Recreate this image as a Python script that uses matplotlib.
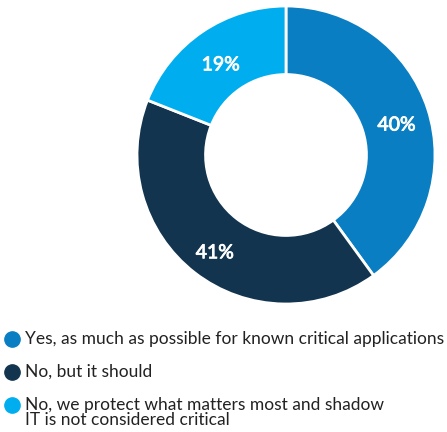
import numpy as np
import matplotlib.pyplot as plt
import matplotlib.patheffects as pe

labels = [
    "Yes, as much as possible for known critical applications",
    "No, but it should",
    "No, we protect what matters most and shadow\nIT is not considered critical",
]
values = [40, 41, 19]
colors = ["#0a7ec2", "#12344f", "#00aeef"]

W, H = 447, 432
fig = plt.figure(figsize=(W / 100, H / 100), dpi=100)
plt.rcParams["font.family"] = ["Lato", "DejaVu Sans"]

# donut
cx, cy, r = 286, 155, 149
ax = fig.add_axes([(cx - r) / W, (H - cy - r) / H, 2 * r / W, 2 * r / H])
ax.pie(
    values, colors=colors, startangle=90, counterclock=False, radius=1,
    wedgeprops=dict(width=0.46, edgecolor="white", linewidth=2),
)
ax.set_xlim(-1, 1)
ax.set_ylim(-1, 1)
ax.set_aspect("equal")
ax.axis("off")

start = 90
for v in values:
    mid = np.deg2rad(start - v * 3.6 / 2)
    ax.text(0.78 * np.cos(mid), 0.78 * np.sin(mid) - 0.04, f"{v}%", color="white",
            fontsize=14, ha="center", va="center",
            path_effects=[pe.withStroke(linewidth=0.6, foreground="white")])
    start -= v * 3.6

# legend drawn in pixel coordinates
lax = fig.add_axes([0, 0, 1, 1])
lax.set_xlim(0, W)
lax.set_ylim(H, 0)
lax.axis("off")
rows = [339, 372, 405]
for lab, col, y in zip(labels, colors, rows):
    lax.plot(12, y, "o", color=col, markersize=11)
    nlines = lab.count("\n")
    lax.text(25, y + 7.5 * nlines, lab, fontsize=12.5, color="#222222", va="center",
             linespacing=0.95)

fig.savefig("out.png", dpi=100)
